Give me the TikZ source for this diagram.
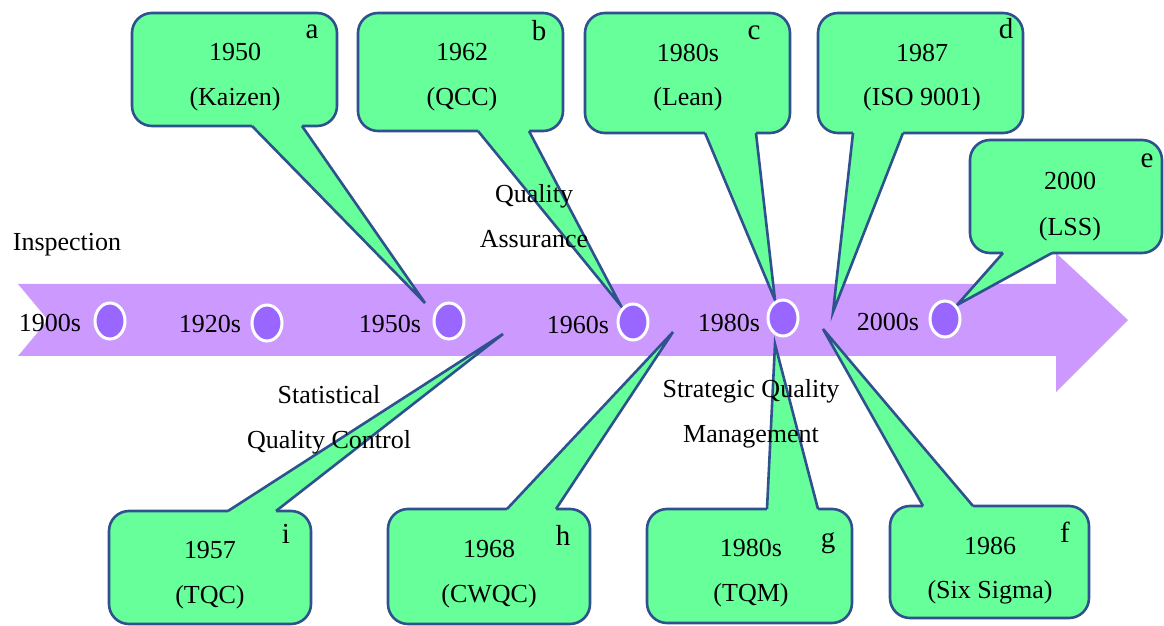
\documentclass[tikz,border=0pt]{standalone}
\usepackage{fontspec}
\setmainfont{Liberation Serif}
\usetikzlibrary{shapes.geometric,fit}
\definecolor{band}{HTML}{CC99FF}
\definecolor{dotfill}{HTML}{9966FF}
\definecolor{bubblegreen}{HTML}{66FF99}
\definecolor{bubbleedge}{RGB}{47,82,143}
\tikzset{
  bubble/.style={draw=bubbleedge, fill=bubblegreen, line width=1.3pt, rounded corners=10pt, inner sep=0pt},
  tail/.style={fill=bubblegreen},
  tailline/.style={draw=bubbleedge, line width=1.3pt, line join=miter},
  yeardot/.style={ellipse, draw=white, fill=dotfill, line width=1.5pt, minimum width=15pt, minimum height=18pt, inner sep=0pt},
  txt/.style={anchor=base, inner sep=0pt, font=\fontsize{13}{15}\selectfont},
  tag/.style={anchor=base, inner sep=0pt, font=\fontsize{14.5}{17}\selectfont},
}
\begin{document}
\begin{tikzpicture}[x=0.5pt,y=-0.5pt]
\useasboundingbox (0,0) rectangle (1164,626);

% timeline band
\fill[band] (18,284) -- (1056,284) -- (1056,253) -- (1128,320) -- (1056,392)
  -- (1056,356) -- (18,356) -- (48,320) -- cycle;

% tip points of the callouts
\coordinate (ta) at (425,303);
\coordinate (tb) at (621,306);
\coordinate (tc) at (775,300);
\coordinate (td) at (833,312);
\coordinate (te) at (957,305);
\coordinate (tf) at (823,329);
\coordinate (tg) at (775,344);
\coordinate (th) at (673,332);
\coordinate (ti) at (503,334);

% upper callouts
\node[bubble, fit={(132,13) (337,126)}] (ba) {};
\fill[tail] (252,118) -- (252,126) -- (ta) -- (302,126) -- (302,118) -- cycle;
\draw[tailline] (252,126) -- (ta) -- (302,126);

\node[bubble, fit={(358,13) (563,131)}] (bb) {};
\fill[tail] (478,123) -- (478,131) -- (tb) -- (529,131) -- (529,123) -- cycle;
\draw[tailline] (478,131) -- (tb) -- (529,131);

\node[bubble, fit={(585,13) (790,133)}] (bc) {};
\fill[tail] (705,125) -- (705,133) -- (tc) -- (756,133) -- (756,125) -- cycle;
\draw[tailline] (705,133) -- (tc) -- (756,133);

\node[bubble, fit={(818,13) (1023,133)}] (bd) {};
\fill[tail] (853,125) -- (853,133) -- (td) -- (903,133) -- (903,125) -- cycle;
\draw[tailline] (853,133) -- (td) -- (903,133);

\node[bubble, fit={(970,140) (1162,253)}] (be) {};
\fill[tail] (1003,245) -- (1003,253) -- (te) -- (1052,253) -- (1052,245) -- cycle;
\draw[tailline] (1003,253) -- (te) -- (1052,253);

% lower callouts
\node[bubble, fit={(109,511) (311,624)}] (bi) {};
\fill[tail] (228,519) -- (228,511) -- (ti) -- (276,511) -- (276,519) -- cycle;
\draw[tailline] (228,511) -- (ti) -- (276,511);

\node[bubble, fit={(388,509) (590,624)}] (bh) {};
\fill[tail] (507,517) -- (507,509) -- (th) -- (556,509) -- (556,517) -- cycle;
\draw[tailline] (507,509) -- (th) -- (556,509);

\node[bubble, fit={(647,509) (852,623)}] (bg) {};
\fill[tail] (767,517) -- (767,509) -- (tg) -- (818,509) -- (818,517) -- cycle;
\draw[tailline] (767,509) -- (tg) -- (818,509);

\node[bubble, fit={(890,506) (1089,618)}] (bf) {};
\fill[tail] (923,514) -- (923,506) -- (tf) -- (973,506) -- (973,514) -- cycle;
\draw[tailline] (923,506) -- (tf) -- (973,506);

% year markers
\node[yeardot] (d1900) at (110,321) {};
\node[yeardot] (d1920) at (267,323) {};
\node[yeardot] (d1950) at (449,321) {};
\node[yeardot] (d1960) at (633,322) {};
\node[yeardot] (d1980) at (783,318) {};
\node[yeardot] (d2000) at (945,319) {};

\node[txt] (y1900) at (50,331) {1900s};
\node[txt] (y1920) at (210,333) {1920s};
\node[txt] (y1950) at (390,333) {1950s};
\node[txt] (y1960) at (578,334) {1960s};
\node[txt] (y1980) at (729,332) {1980s};
\node[txt] (y2000) at (888,330) {2000s};

% callout texts
\node[txt] (a1) at (235,61) {1950};
\node[txt] (a2) at (235,106) {(Kaizen)};
\node[tag] (al) at (312,39) {a};
\node[txt] (b1) at (462,61) {1962};
\node[txt] (b2) at (462,106) {(QCC)};
\node[tag] (bl) at (539,41) {b};
\node[txt] (c1) at (688,62) {1980s};
\node[txt] (c2) at (688,106) {(Lean)};
\node[tag] (cl) at (754,40) {c};
\node[txt] (d1) at (922,62) {1987};
\node[txt] (d2) at (922,106) {(ISO 9001)};
\node[tag] (dl) at (1006,39) {d};
\node[txt] (e1) at (1070,190) {2000};
\node[txt] (e2) at (1070,235) {(LSS)};
\node[tag] (el) at (1147,168) {e};
\node[txt] (i1) at (210,558) {1957};
\node[txt] (i2) at (210,603) {(TQC)};
\node[tag] (il) at (286,543) {i};
\node[txt] (h1) at (489,557) {1968};
\node[txt] (h2) at (489,602) {(CWQC)};
\node[tag] (hl) at (563,545) {h};
\node[txt] (g1) at (751,556) {1980s};
\node[txt] (g2) at (751,601) {(TQM)};
\node[tag] (gl) at (828,547) {g};
\node[txt] (f1) at (990,554) {1986};
\node[txt] (f2) at (990,598) {(Six Sigma)};
\node[tag] (fl) at (1065,542) {f};

% stage labels
\node[txt] (s1) at (67,251) {Inspection};
\node[txt] (s2a) at (534,203) {Quality};
\node[txt] (s2b) at (534,248) {Assurance};
\node[txt] (s3a) at (329,403) {Statistical};
\node[txt] (s3b) at (329,448) {Quality Control};
\node[txt] (s4a) at (751,398) {Strategic Quality};
\node[txt] (s4b) at (751,443) {Management};
\end{tikzpicture}
\end{document}
